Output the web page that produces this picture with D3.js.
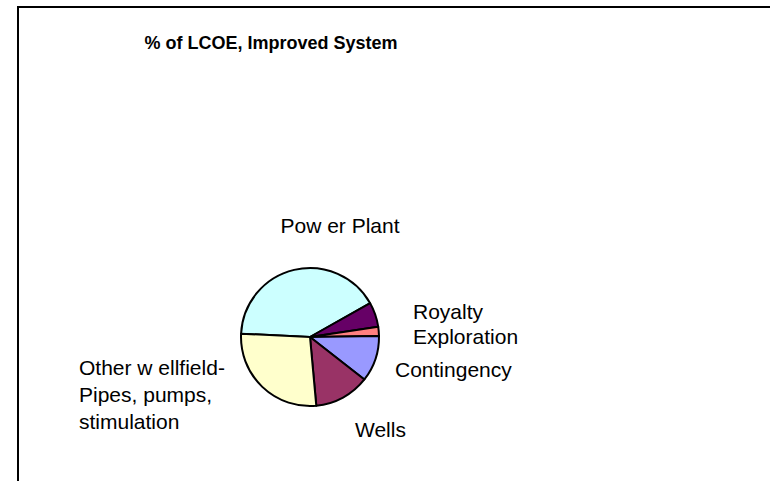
<!DOCTYPE html>
<html>
<head>
<meta charset="utf-8">
<script src="https://cdn.jsdelivr.net/npm/d3@7"></script>
<style>
	body { margin: 0; background: #fff; }
	svg text { font-family: "Liberation Sans", Arial, sans-serif; fill: #000; }
</style>
</head>
<body>
<div id="chart"></div>
<script>
// slices, clockwise, starting with Power Plant
var categories = ["Power Plant", "Royalty", "Exploration", "Contingency", "Wells", "Other wellfield"]
var shares = [41.1, 5.8, 2.1, 10.8, 13.0, 27.2]
var colours = ["#CCFFFF", "#660066", "#FF8080", "#9999FF", "#993366", "#FFFFCC"]
// label text as drawn in the picture, one entry per line
var labelLines = [
	["Pow er Plant"],
	["Royalty"],
	["Exploration"],
	["Contingency"],
	["Wells"],
	["Other w ellfield-", "Pipes, pumps,", "stimulation"]
]
var title = "% of LCOE, Improved System"

var width = 770, height = 481
var cx = 310, cy = 337, radius = 69
var startDeg = -87.3
// label anchors (left edge / first baseline), text-anchor per label
var labelLayout = [
	{x: 340, y: 233, anchor: "middle"},
	{x: 413, y: 319, anchor: "start"},
	{x: 413, y: 344, anchor: "start"},
	{x: 395, y: 377, anchor: "start"},
	{x: 355, y: 437, anchor: "start"},
	{x: 79, y: 375, anchor: "start"}
]

var svg = d3.select("#chart").append("svg")
	.attr("width", width)
	.attr("height", height)

svg.append("rect")
	.attr("x", 18).attr("y", 7)
	.attr("width", 800).attr("height", 520)
	.attr("fill", "#fff")
	.attr("stroke", "#000")
	.attr("stroke-width", 2)

svg.append("text")
	.attr("x", 271).attr("y", 49)
	.attr("text-anchor", "middle")
	.style("font-size", "18px")
	.style("font-weight", "bold")
	.text(title)

var data = categories.map((c, i) => ({name: c, value: shares[i], colour: colours[i]}))

var start = startDeg * Math.PI / 180
var pie = d3.pie()
	.sort(null)
	.value(d => d.value)
	.startAngle(start)
	.endAngle(start + 2 * Math.PI)

var arc = d3.arc().innerRadius(0).outerRadius(radius)

svg.append("g")
	.attr("transform", "translate(" + cx + "," + cy + ")")
	.selectAll("path")
	.data(pie(data))
	.enter()
	.append("path")
	.attr("d", arc)
	.attr("fill", d => d.data.colour)
	.attr("stroke", "#000")
	.attr("stroke-width", 2)
	.attr("stroke-linejoin", "round")

var labels = svg.append("g")
	.selectAll("text")
	.data(labelLines)
	.enter()
	.append("text")
	.attr("x", (d, i) => labelLayout[i].x)
	.attr("y", (d, i) => labelLayout[i].y)
	.attr("text-anchor", (d, i) => labelLayout[i].anchor)
	.style("font-size", "21px")

labels.selectAll("tspan")
	.data(d => d)
	.enter()
	.append("tspan")
	.attr("x", function(){ return d3.select(this.parentNode).attr("x") })
	.attr("dy", (d, j) => j == 0 ? 0 : 27)
	.text(d => d)
</script>
</body>
</html>
